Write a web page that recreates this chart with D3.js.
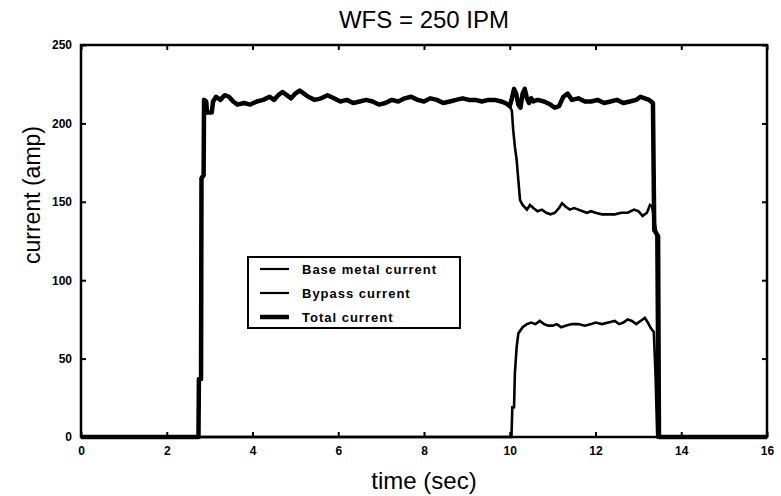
<!DOCTYPE html>
<html>
<head>
    <meta charset="UTF-8">
    <title>WFS = 250 IPM</title>
    <script src="https://d3js.org/d3.v7.min.js"></script>
    <style>
        body { margin: 0; background: #fff; }
        svg text { fill: #000; }
    </style>
</head>
<body>
<svg id="chart"></svg>
<script>
    // [time (s), current (amp)]
    var totalCurrent = [
        [0, 0], [2.74, 0], [2.75, 37], [2.80, 37], [2.81, 165], [2.86, 167], [2.87, 215], [2.92, 214],
        [2.94, 207], [3.05, 207], [3.08, 214], [3.15, 217], [3.25, 215], [3.35, 218], [3.45, 217],
        [3.55, 214], [3.65, 212], [3.8, 213], [3.95, 212], [4.1, 214], [4.25, 215], [4.4, 217],
        [4.5, 215], [4.6, 218], [4.7, 220], [4.8, 218], [4.9, 216], [5.0, 219], [5.1, 221],
        [5.2, 219], [5.3, 217], [5.45, 215], [5.6, 216], [5.75, 218], [5.9, 216], [6.05, 214],
        [6.2, 215], [6.35, 213], [6.5, 214], [6.65, 215], [6.8, 214], [6.95, 212], [7.1, 213],
        [7.25, 215], [7.4, 214], [7.55, 216], [7.7, 217], [7.85, 215], [8.0, 214], [8.15, 216],
        [8.3, 215], [8.45, 213], [8.6, 214], [8.75, 215], [8.9, 216], [9.05, 215], [9.2, 215],
        [9.35, 214], [9.5, 215], [9.65, 215], [9.8, 214], [9.9, 213], [10.0, 211], [10.05, 216],
        [10.1, 222], [10.15, 219], [10.2, 212], [10.25, 210], [10.3, 219], [10.35, 222], [10.4, 216],
        [10.45, 213], [10.5, 216], [10.55, 214], [10.65, 215], [10.8, 214], [10.95, 212], [11.05, 210],
        [11.15, 211], [11.25, 217], [11.35, 219], [11.45, 215], [11.6, 216], [11.75, 214], [11.9, 214],
        [12.05, 215], [12.2, 213], [12.35, 214], [12.5, 215], [12.65, 213], [12.8, 214], [12.95, 215],
        [13.05, 217], [13.15, 216], [13.25, 215], [13.34, 213], [13.37, 132], [13.46, 128], [13.48, 0],
        [16, 0]
    ];

    // base metal current follows the total until the bypass switches on at 10 s
    var baseAfterBypass = [
        [10.0, 211], [10.05, 208], [10.08, 196], [10.12, 185], [10.16, 177], [10.2, 164], [10.24, 151],
        [10.3, 148], [10.4, 145], [10.47, 148], [10.55, 146], [10.65, 144], [10.75, 145], [10.85, 143],
        [10.95, 142], [11.05, 143], [11.15, 146], [11.22, 149], [11.3, 147], [11.4, 145], [11.5, 146],
        [11.6, 145], [11.7, 144], [11.8, 143], [11.9, 144], [12.0, 143], [12.15, 142], [12.3, 142],
        [12.45, 142], [12.6, 143], [12.75, 143], [12.9, 145], [13.0, 144], [13.1, 141], [13.2, 143],
        [13.27, 148], [13.32, 147], [13.36, 140], [13.42, 130], [13.45, 0], [16, 0]
    ];

    var bypassCurrent = [
        [0, 0], [10.04, 0], [10.06, 19], [10.1, 19], [10.12, 41], [10.16, 57], [10.2, 66], [10.3, 70],
        [10.4, 72], [10.5, 73], [10.6, 72], [10.7, 74], [10.8, 72], [10.9, 71], [11.0, 71], [11.1, 72],
        [11.2, 70], [11.3, 71], [11.45, 72], [11.6, 72], [11.75, 71], [11.9, 72], [12.0, 73],
        [12.15, 72], [12.3, 73], [12.45, 74], [12.55, 72], [12.65, 73], [12.75, 75], [12.85, 74],
        [12.95, 72], [13.05, 74], [13.15, 76], [13.22, 73], [13.3, 69], [13.36, 67], [13.4, 40],
        [13.44, 0], [16, 0]
    ];

    var baseCurrent = totalCurrent.filter(function (d) { return d[0] < 10; }).concat(baseAfterBypass);

    var xTicks = [0, 2, 4, 6, 8, 10, 12, 14, 16];
    var yTicks = [0, 50, 100, 150, 200, 250];
    var legendLabels = ["Base metal current", "Bypass current", "Total current"];

    var W = 781, H = 496;
    var plotLeft = 81, plotRight = 767, plotTop = 45, plotBottom = 437;

    var svg = d3.select("#chart").attr("width", W).attr("height", H);

    var x = d3.scaleLinear().domain([0, 16]).range([plotLeft, plotRight]);
    var y = d3.scaleLinear().domain([0, 250]).range([plotBottom, plotTop]);

    var tickFont = "bold 12px 'Liberation Sans', Arial, sans-serif";
    var bigFont = "24px 'Liberation Sans', Arial, sans-serif";

    function styleAxis(g, hideText) {
        g.select(".domain").remove();
        g.selectAll(".tick line").attr("stroke", "#000").attr("stroke-width", 2);
        g.selectAll(".tick text").style("font", tickFont);
        if (hideText) g.selectAll(".tick text").remove();
    }

    svg.append("g").attr("transform", "translate(0," + plotBottom + ")")
        .call(d3.axisBottom(x).tickValues(xTicks).tickSizeInner(-5).tickSizeOuter(0).tickPadding(9))
        .call(styleAxis, false);
    svg.append("g").attr("transform", "translate(0," + plotTop + ")")
        .call(d3.axisTop(x).tickValues(xTicks).tickSizeInner(-5).tickSizeOuter(0))
        .call(styleAxis, true);
    svg.append("g").attr("transform", "translate(" + plotLeft + ",0)")
        .call(d3.axisLeft(y).tickValues(yTicks).tickSizeInner(-5).tickSizeOuter(0).tickPadding(9))
        .call(styleAxis, false);
    svg.append("g").attr("transform", "translate(" + plotRight + ",0)")
        .call(d3.axisRight(y).tickValues(yTicks).tickSizeInner(-5).tickSizeOuter(0))
        .call(styleAxis, true);

    var line = d3.line()
        .x(function (d) { return x(d[0]); })
        .y(function (d) { return y(d[1]); });

    svg.append("path").datum(bypassCurrent)
        .attr("d", line).attr("fill", "none").attr("stroke", "#000").attr("stroke-width", 2.6);
    svg.append("path").datum(baseCurrent)
        .attr("d", line).attr("fill", "none").attr("stroke", "#000").attr("stroke-width", 2.6);
    svg.append("path").datum(totalCurrent)
        .attr("d", line).attr("fill", "none").attr("stroke", "#000").attr("stroke-width", 4.5)
        .attr("stroke-linejoin", "round");

    // frame
    svg.append("rect")
        .attr("x", plotLeft).attr("y", plotTop)
        .attr("width", plotRight - plotLeft).attr("height", plotBottom - plotTop)
        .attr("fill", "none").attr("stroke", "#000").attr("stroke-width", 2.5);

    // legend
    var lg = svg.append("g").attr("transform", "translate(248,257)");
    lg.append("rect").attr("width", 212).attr("height", 71)
        .attr("fill", "#fff").attr("stroke", "#000").attr("stroke-width", 2);
    var widths = [2.2, 2.2, 4.5];
    legendLabels.forEach(function (label, i) {
        var ly = 12 + i * 24;
        lg.append("line").attr("x1", 12).attr("x2", 41).attr("y1", ly).attr("y2", ly)
            .attr("stroke", "#000").attr("stroke-width", widths[i]);
        lg.append("text").attr("x", 54).attr("y", ly + 5).text(label)
            .style("font", "bold 13px 'Liberation Sans', Arial, sans-serif")
            .style("letter-spacing", "1px");
    });

    svg.append("text").attr("x", (plotLeft + plotRight) / 2).attr("y", 28)
        .attr("text-anchor", "middle").style("font", bigFont).text("WFS = 250 IPM");
    svg.append("text").attr("x", (plotLeft + plotRight) / 2).attr("y", 489)
        .attr("text-anchor", "middle").style("font", bigFont).text("time (sec)");
    svg.append("text").attr("transform", "translate(40,195) rotate(-90)")
        .attr("text-anchor", "middle").style("font", "23px 'Liberation Sans', Arial, sans-serif")
        .text("current (amp)");
</script>
</body>
</html>
